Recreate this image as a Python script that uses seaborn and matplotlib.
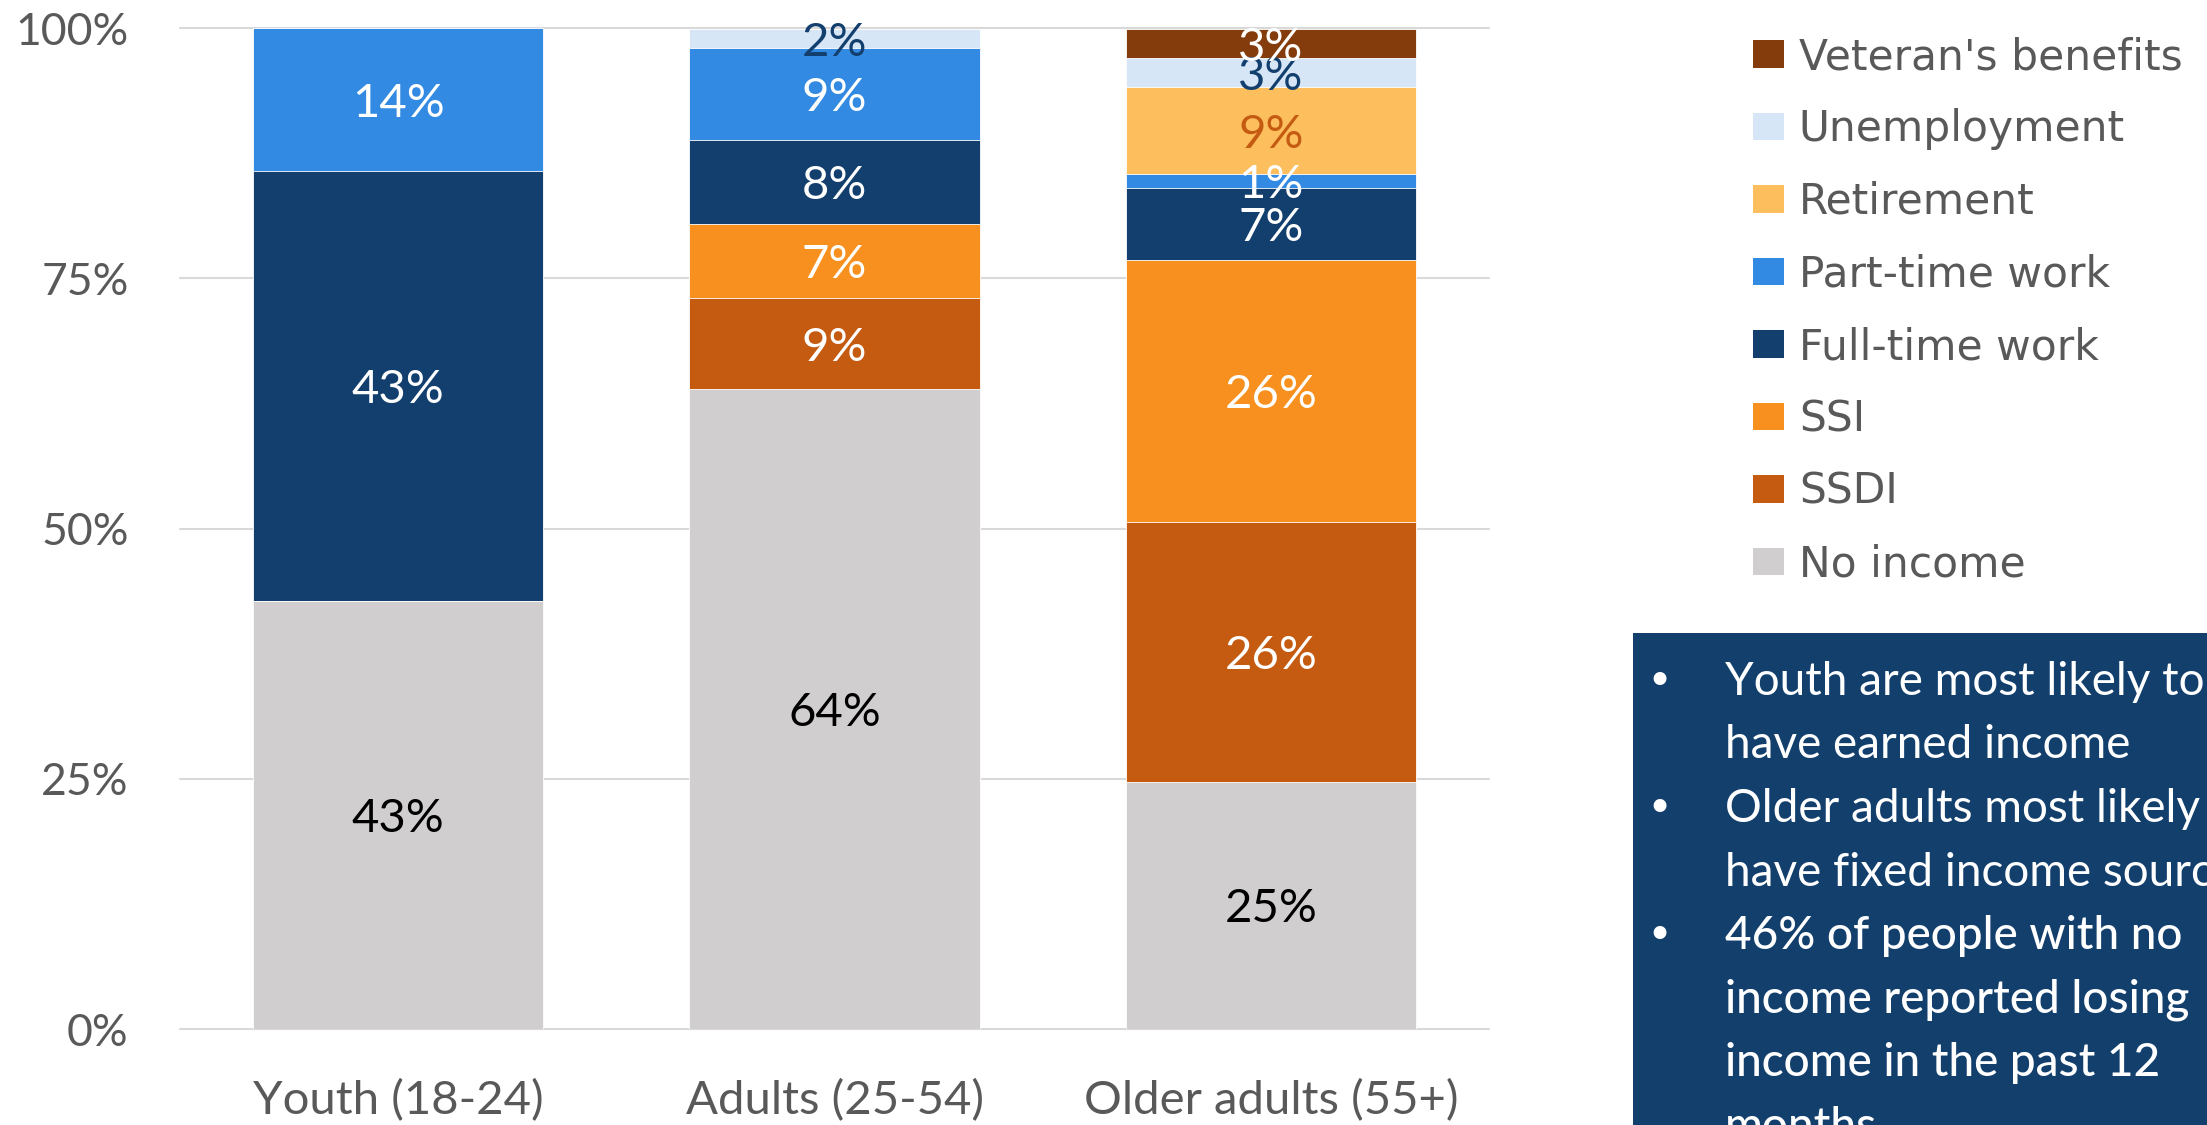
import numpy as np
import pandas as pd
import seaborn as sns
import matplotlib.pyplot as plt
from matplotlib.patches import Patch, Rectangle

groups = ["Youth (18-24)", "Adults (25-54)", "Older adults (55+)"]

# bottom -> top
series = ["No income", "SSDI", "SSI", "Full-time work", "Part-time work",
          "Retirement", "Unemployment", "Veteran's benefits"]
no_income = [42.8, 63.9, 24.7]
ssdi = [0, 9.1, 26.0]
ssi = [0, 7.4, 26.1]
full_time = [42.9, 8.4, 7.2]
part_time = [14.3, 9.2, 1.4]
retirement = [0, 0, 8.7]
unemployment = [0, 1.9, 2.9]
veterans = [0, 0, 2.9]

colors = ["#D0CECE", "#C55A11", "#F7901E", "#123F6D", "#328AE2",
          "#FDBF5E", "#D6E6F6", "#843C0C"]
label_colors = ["black", "white", "white", "white", "white",
                "#C55A11", "#123F6D", "white"]

notes = [
    ["Youth are most likely to", "have earned income"],
    ["Older adults most likely to", "have fixed income sources"],
    ["46% of people with no", "income reported losing", "income in the past 12", "months"],
]

df = pd.DataFrame([no_income, ssdi, ssi, full_time, part_time,
                   retirement, unemployment, veterans], index=series, columns=groups)
cum = df.cumsum()

sns.set_theme(style="white")
plt.rcParams['font.family'] = ['Lato', 'DejaVu Sans']

fig = plt.figure(figsize=(22.07, 11.25), dpi=100)
ax = fig.add_axes([0.0816, 0.0853, 0.5931, 0.8898])

# overlay cumulative bars, tallest first
for i in range(len(series) - 1, -1, -1):
    sns.barplot(x=groups, y=cum.iloc[i].values, color=colors[i], saturation=1,
                width=0.665, errorbar=None, edgecolor="white", linewidth=0.6,
                ax=ax, zorder=2)

for i, s in enumerate(series):
    for j, g in enumerate(groups):
        v = df.loc[s, g]
        if v <= 0:
            continue
        mid = cum.iloc[i, j] - v / 2
        ax.text(j, mid, f"{round(v):.0f}%", ha="center", va="center_baseline",
                fontsize=34, color=label_colors[i], zorder=5)

ax.set_xlim(-0.5, 2.5)
ax.set_ylim(0, 100)
ax.set_yticks([0, 25, 50, 75, 100])
ax.set_yticklabels([f"{t}%" for t in [0, 25, 50, 75, 100]])
ax.yaxis.grid(True, color="#D9D9D9", linewidth=1.5, zorder=0)
ax.set_axisbelow(True)
for sp in ax.spines.values():
    sp.set_visible(False)
ax.tick_params(axis="y", length=0, pad=37, labelsize=32, labelcolor="#595959")
ax.tick_params(axis="x", length=0, pad=36, labelsize=34, labelcolor="#595959")
for gl in ax.get_ygridlines():
    gl.set_clip_on(False)

handles = [Patch(facecolor=colors[i], edgecolor="none", label=series[i])
           for i in range(len(series) - 1, -1, -1)]
fig.legend(handles=handles, loc="upper left", bbox_to_anchor=(0.7943, 0.968),
           frameon=False, prop={"family": "DejaVu Sans", "size": 30.5},
           labelcolor="#595959", handlelength=0.72, handleheight=0.62,
           handletextpad=0.36, labelspacing=0.72, borderpad=0, borderaxespad=0)

# note box
fig.patches.append(Rectangle((1633 / 2207, 0), 1.0, 1 - 633 / 1125,
                             transform=fig.transFigure, facecolor="#133F6D",
                             edgecolor="none", zorder=0))
y = 695
for k, block in enumerate(notes):
    fig.text(1659 / 2207, 1 - y / 1125, "\u2022", color="white", fontsize=32,
             ha="center", va="baseline", family="DejaVu Sans")
    for line in block:
        fig.text(1725 / 2207, 1 - y / 1125, line, color="white", fontsize=33,
                 ha="left", va="baseline",
                 fontweight="normal" if k < 2 else "medium")
        y += 63.5

fig.savefig("out.png", dpi=100)
